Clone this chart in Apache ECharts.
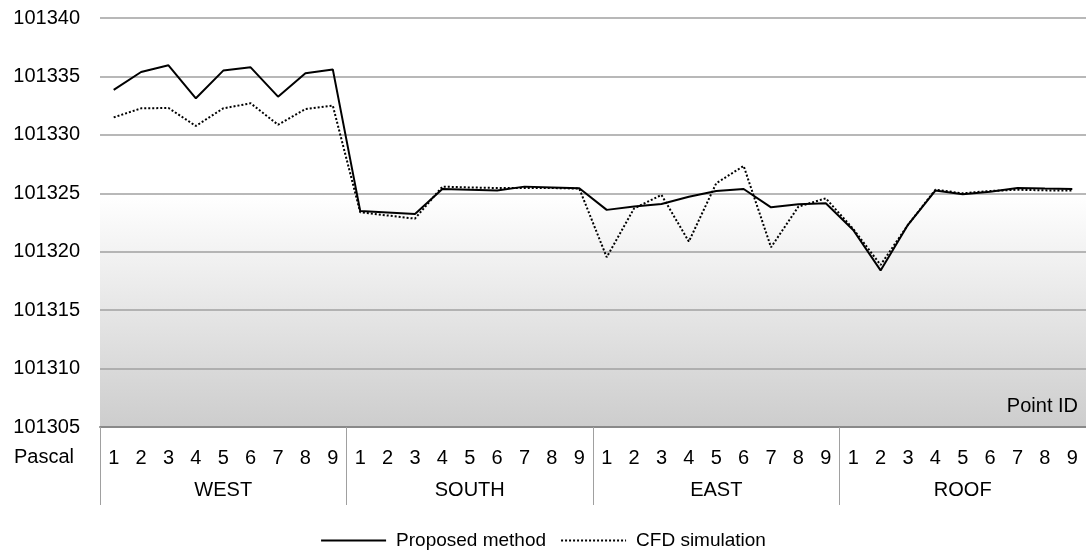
<!DOCTYPE html>
<html>
<head>
<meta charset="utf-8">
<script src="https://cdn.jsdelivr.net/npm/echarts@6/dist/echarts.min.js"></script>
<style>html,body{margin:0;padding:0;background:#fff}#c{width:1086px;height:558px}</style>
</head>
<body>
<div id="c"></div>
<script>
const groups = ['WEST', 'SOUTH', 'EAST', 'ROOF'];
const pointIds = ['1','2','3','4','5','6','7','8','9'];
const categories = [].concat(pointIds, pointIds, pointIds, pointIds);
const proposed = [
  101333.85, 101335.38, 101335.95, 101333.13, 101335.50, 101335.78, 101333.27, 101335.27, 101335.60,
  101323.49, 101323.36, 101323.23, 101325.37, 101325.30, 101325.23, 101325.57, 101325.50, 101325.43,
  101323.58, 101323.86, 101324.09, 101324.71, 101325.20, 101325.37, 101323.80, 101324.06, 101324.14,
  101321.86, 101318.40, 101322.30, 101325.23, 101324.92, 101325.14, 101325.46, 101325.40, 101325.37
];
const cfd = [
  101331.50, 101332.27, 101332.30, 101330.76, 101332.27, 101332.70, 101330.87, 101332.20, 101332.50,
  101323.38, 101323.10, 101322.83, 101325.57, 101325.50, 101325.45, 101325.46, 101325.45, 101325.40,
  101319.53, 101323.70, 101324.86, 101320.87, 101325.86, 101327.34, 101320.38, 101323.86, 101324.57,
  101321.95, 101318.87, 101322.30, 101325.30, 101325.00, 101325.20, 101325.30, 101325.25, 101325.23
];
const yTicks = { min: 101305, max: 101340, interval: 5 };

const FONT = 'Liberation Sans, Arial, sans-serif';
const FS = 20;
const chart = echarts.init(document.getElementById('c'));
chart.setOption({
  animation: false,
  backgroundColor: '#fff',
  textStyle: { fontFamily: FONT },
  grid: {
    left: 100, right: -4, top: 18, bottom: 131,
    show: true, borderWidth: 0,
    backgroundColor: {
      type: 'linear', x: 0, y: 0, x2: 0, y2: 1,
      colorStops: [
        { offset: 0, color: '#ffffff' },
        { offset: 0.43, color: '#ffffff' },
        { offset: 1, color: '#cdcdcd' }
      ]
    }
  },
  legend: {
    bottom: 3, left: 'center',
    itemWidth: 65, itemHeight: 14, itemGap: 14,
    itemStyle: { opacity: 0 },
    textStyle: { fontSize: 19, color: '#000', fontFamily: FONT, padding: [0, 0, 0, 5] },
    data: ['Proposed method', 'CFD simulation']
  },
  xAxis: [
    {
      type: 'category', data: categories, boundaryGap: true,
      axisLine: { show: true, lineStyle: { color: '#898989', width: 2 } },
      axisTick: { show: false },
      axisLabel: { interval: 0, margin: 21, fontSize: FS, color: '#000', fontFamily: FONT },
      splitLine: { show: false }
    },
    {
      type: 'category', data: groups, position: 'bottom', boundaryGap: true,
      axisLine: { show: false },
      axisTick: { show: true, length: 78, lineStyle: { color: '#a0a0a0', width: 1 } },
      axisLabel: { interval: 0, margin: 53, fontSize: FS, color: '#000', fontFamily: FONT },
      splitLine: { show: false }
    }
  ],
  yAxis: {
    type: 'value', min: yTicks.min, max: yTicks.max, interval: yTicks.interval,
    axisLine: { show: false }, axisTick: { show: false },
    axisLabel: { margin: 20, fontSize: FS, color: '#000', fontFamily: FONT, formatter: function (v) { return String(v); } },
    splitLine: { show: true, lineStyle: { color: '#a0a0a0', width: 1.5 } }
  },
  graphic: [
    { type: 'text', left: 14, top: 447, style: { text: 'Pascal', fontSize: FS, fill: '#000', fontFamily: FONT } },
    { type: 'text', right: 8, top: 396, style: { text: 'Point ID', fontSize: FS, fill: '#000', fontFamily: FONT } }
  ],
  series: [
    {
      name: 'Proposed method', type: 'line', data: proposed, xAxisIndex: 0,
      symbol: 'none', lineStyle: { color: '#000', width: 2, type: 'solid' }, itemStyle: { color: '#000' }, z: 3
    },
    {
      name: 'CFD simulation', type: 'line', data: cfd, xAxisIndex: 0,
      symbol: 'none', lineStyle: { color: '#000', width: 2, type: 'dotted' }, itemStyle: { color: '#000' }, z: 2
    }
  ]
});
</script>
</body>
</html>
